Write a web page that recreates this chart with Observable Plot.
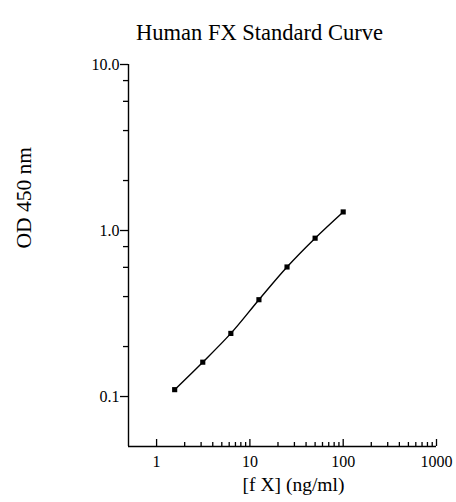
<!DOCTYPE html>
<html><head><meta charset="utf-8">
<script src="https://cdn.jsdelivr.net/npm/d3@7"></script>
<script src="https://cdn.jsdelivr.net/npm/@observablehq/plot@0.6"></script>
<style>body{margin:0;background:#fff}</style>
</head><body><div id="chart"></div>
<script>
const concentrations = [1.5625, 3.125, 6.25, 12.5, 25, 50, 100];
const od450 = [0.110, 0.161, 0.240, 0.383, 0.603, 0.899, 1.294];
const xMajorTicks = [1, 10, 100, 1000];
const xMajorLabels = ["1", "10", "100", "1000"];
const xMinorTicks = [2, 3, 4, 5, 6, 7, 8, 9, 20, 30, 40, 50, 60, 70, 80, 90, 200, 300, 400, 500, 600, 700, 800, 900];
const yMajorTicks = [0.1, 1, 10];
const yMajorLabels = ["0.1", "1.0", "10.0"];
const yMinorTicks = [0.2, 0.4, 0.6, 0.8, 2, 4, 6, 8];
const titleText = "Human FX Standard Curve";
const xLabelText = "[f X] (ng/ml)";
const yLabelText = "OD 450 nm";

const data = concentrations.map((c, i) => ({c, od: od450[i]}));

const chart = Plot.plot({
  width: 456,
  height: 502,
  marginLeft: 128,
  marginRight: 20,
  marginTop: 64,
  marginBottom: 56,
  style: {fontFamily: "'Liberation Serif', 'Times New Roman', serif", fontSize: "16px", background: "white", color: "black"},
  x: {type: "log", domain: [0.5, 1000]},
  y: {type: "log", domain: [0.05, 10]},
  marks: [
    Plot.ruleX([0.5], {stroke: "black", strokeWidth: 1.4}),
    Plot.ruleY([0.05], {stroke: "black", strokeWidth: 1.4}),
    Plot.axisX({ticks: xMajorTicks, tickSize: -7, tickPadding: 16, strokeWidth: 1.3, label: null,
      tickFormat: d => xMajorLabels[xMajorTicks.indexOf(d)], fontSize: 16}),
    Plot.axisX({ticks: xMinorTicks, tickSize: -4, strokeWidth: 1.3, label: null, tickFormat: () => ""}),
    Plot.axisY({ticks: yMajorTicks, tickSize: 8, tickPadding: 1, strokeWidth: 1.3, label: null,
      tickFormat: d => yMajorLabels[yMajorTicks.indexOf(d)], fontSize: 16}),
    Plot.axisY({ticks: yMinorTicks, tickSize: 5, strokeWidth: 1.3, label: null, tickFormat: () => ""}),
    Plot.line(data, {x: "c", y: "od", curve: "catmull-rom", stroke: "black", strokeWidth: 1.4}),
    Plot.dot(data, {x: "c", y: "od", symbol: "square", fill: "black", r: 2.9}),
    Plot.text([titleText], {frameAnchor: "top", dx: -23, dy: -40, fontSize: 22.5, fill: "black"}),
    Plot.text([xLabelText], {frameAnchor: "bottom", dx: 11, dy: 44, fontSize: 19.5, fill: "black"}),
    Plot.text([yLabelText], {frameAnchor: "left", dx: -104, dy: -7, rotate: -90, fontSize: 21.5, fill: "black"})
  ]
});
document.getElementById("chart").appendChild(chart);
</script>
</body></html>
